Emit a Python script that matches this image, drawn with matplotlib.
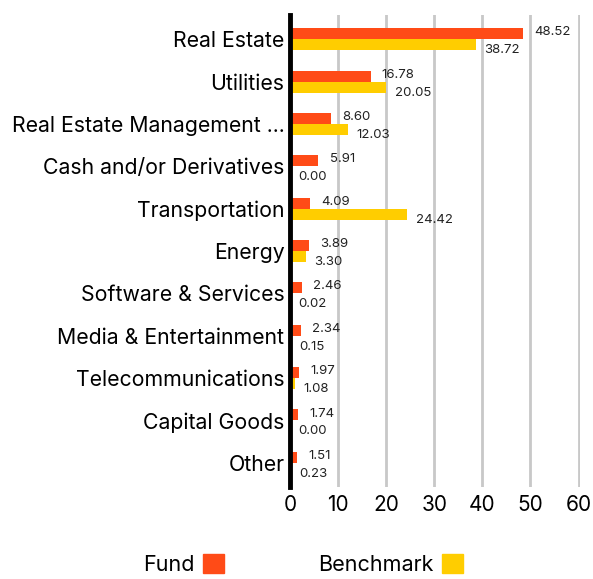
import matplotlib
matplotlib.use("Agg")
import matplotlib.pyplot as plt
import numpy as np
from matplotlib.patches import Patch

categories = [
    "Real Estate", "Utilities", "Real Estate Management ...", "Cash and/or Derivatives",
    "Transportation", "Energy", "Software & Services", "Media & Entertainment",
    "Telecommunications", "Capital Goods", "Other",
]
fund = [48.52, 16.78, 8.60, 5.91, 4.09, 3.89, 2.46, 2.34, 1.97, 1.74, 1.51]
benchmark = [38.72, 20.05, 12.03, 0.00, 24.42, 3.30, 0.02, 0.15, 1.08, 0.00, 0.23]
xticks = [0, 10, 20, 30, 40, 50, 60]

FUND_C = "#FF4B17"
BENCH_C = "#FFCD00"

plt.rcParams["font.family"] = ["Inter", "DejaVu Sans"]

fig = plt.figure(figsize=(5.93, 5.79), dpi=100)
ax = fig.add_axes([0.489, 0.159, 0.489, 0.815])

y = np.arange(len(categories))
h = 0.26
ax.barh(y - h / 2, fund, height=h, color=FUND_C, zorder=3)
ax.barh(y + h / 2, benchmark, height=h, color=BENCH_C, zorder=3)

for yi, f, b in zip(y, fund, benchmark):
    ax.annotate(f"{f:.2f}", (f, yi - h / 2), xytext=(8, 1), textcoords="offset points",
                va="center", ha="left", fontsize=9.5, color="#222222")
    ax.annotate(f"{b:.2f}", (b, yi + h / 2), xytext=(6, -4), textcoords="offset points",
                va="center", ha="left", fontsize=9.5, color="#222222")

ax.set_yticks(y)
ax.set_yticklabels(categories, fontsize=15.3)
ax.set_ylim(len(categories) - 0.43, -0.57)
ax.set_xlim(0, 60.3)
ax.set_xticks(xticks)
ax.set_xticklabels([str(t) for t in xticks], fontsize=15)
ax.tick_params(axis="both", length=0, pad=4)
ax.tick_params(axis="x", pad=6)

ax.xaxis.grid(True, color="#C8C8C8", lw=2, zorder=0)
ax.set_axisbelow(True)
for s in ["top", "right", "bottom"]:
    ax.spines[s].set_visible(False)
ax.spines["left"].set_linewidth(3.5)
ax.spines["left"].set_color("black")
ax.spines["left"].set_zorder(4)

handles = [Patch(color=FUND_C, label="Fund"), Patch(color=BENCH_C, label="Benchmark")]
fig.legend(handles=handles, loc="lower center", bbox_to_anchor=(0.511, -0.026), ncol=2,
           frameon=False, markerfirst=False, fontsize=15.5, handlelength=0.95, handleheight=0.95,
           columnspacing=4.4, handletextpad=0.4)

fig.savefig("out.png", dpi=100)
